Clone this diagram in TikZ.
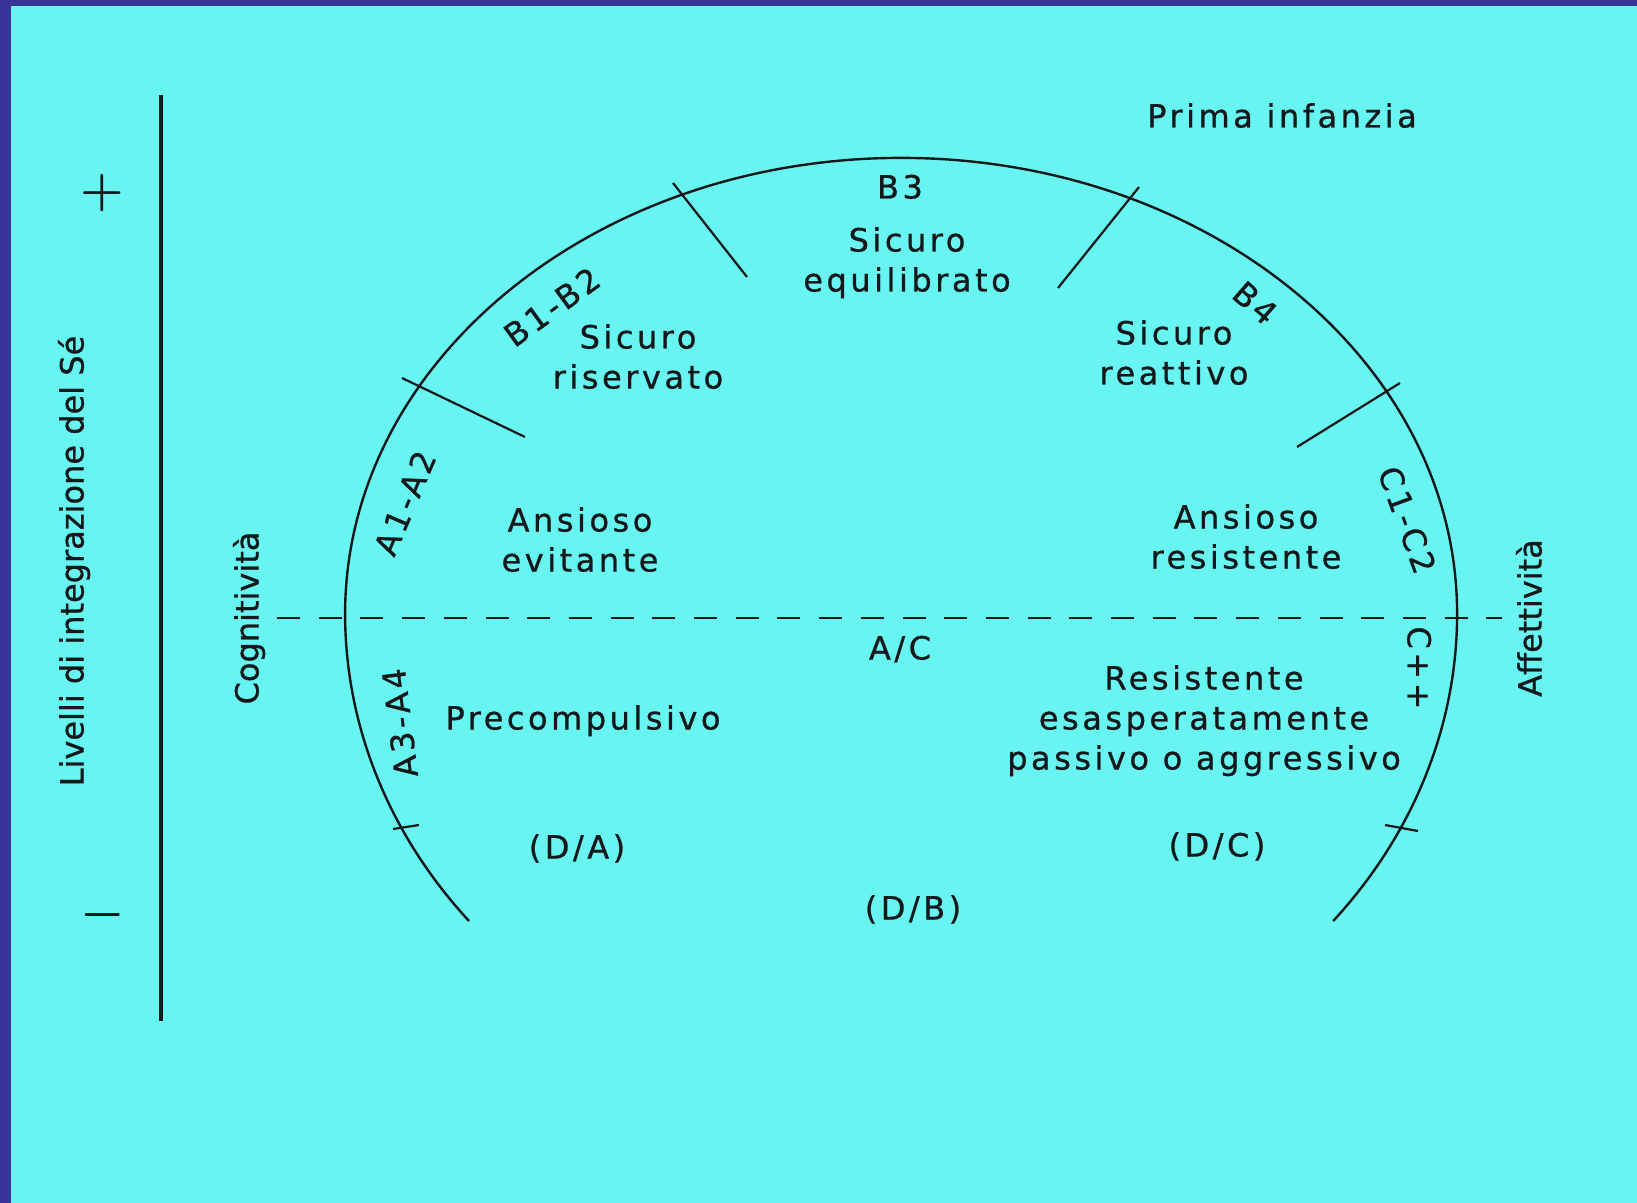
\documentclass[tikz,border=0pt]{standalone}
\usepackage{fontspec}
\setmainfont{DejaVu Sans}[FakeBold=0.8]
\newfontfamily\spaziata{DejaVu Sans}[LetterSpace=11,FakeBold=0.8]
\usetikzlibrary{positioning}
\definecolor{sfondo}{RGB}{104,245,242}
\definecolor{cornice}{RGB}{56,52,152}
\definecolor{inchiostro}{RGB}{20,24,26}
\tikzset{
   voce/.style={font=\spaziata\fontsize{16}{19}\selectfont, text=inchiostro, inner sep=0pt, text height=11.5pt, text depth=0pt},
   asse/.style={font=\fontsize{16}{19}\selectfont, text=inchiostro, inner sep=0pt, text height=11.5pt, text depth=0pt},
   segno/.style={font=\fontsize{30}{30}\selectfont\boldmath, text=inchiostro, inner sep=0pt},
   tacca/.style={draw=inchiostro, line width=1.1pt},
   arco/.style={draw=inchiostro, line width=1.2pt},
   tratteggio/.style={draw=inchiostro, line width=1.1pt, dash pattern=on 11.5pt off 9.35pt}
}
\begin{document}
\begin{tikzpicture}[x=0.5pt,y=-0.5pt,node distance=20pt,on grid]
   \fill[sfondo] (0,0) rectangle (1637,1203);
   \fill[cornice] (0,0) rectangle (1637,6);
   \fill[cornice] (0,0) rectangle (11,1203);
   \useasboundingbox (0,0) rectangle (1637,1203);
   % asse verticale
   \coordinate (alto) at (161,95);
   \coordinate (basso) at (161,1021);
   \draw[draw=inchiostro, line width=1.6pt] (alto) -- (basso);
   \node[segno] (piu) at (102,193) {$+$};
   \node[segno] (meno) at (103,915) {$-$};
   \node[asse, rotate=90] (livelli) at (72,561) {Livelli di integrazione del Sé};
   % arco e divisioni
   \coordinate (fineA) at (469,921);
   \draw[arco] (fineA) arc[start angle=141, end angle=180, x radius=556, y radius=488]
      arc[start angle=180, end angle=360, x radius=556, y radius=456]
      arc[start angle=0, end angle=39, x radius=556, y radius=488];
   \coordinate (sx) at (277,618);
   \coordinate (dx) at (1502,618);
   \draw[tratteggio] (sx) -- (dx);
   \draw[tacca] (673,183) -- (747,277);
   \draw[tacca] (1139,187) -- (1058,288);
   \draw[tacca] (402,378) -- (525,437);
   \draw[tacca] (1400,383) -- (1297,447);
   \draw[tacca] (393,829) -- (419,825);
   \draw[tacca] (1385,825) -- (1418,831);
   % etichette
   \node[voce] (prima) at (1282,116) {Prima infanzia};
   \node[voce] (b3) at (900,187) {B3};
   \node[voce] (sicB3) at (907,240) {Sicuro};
   \node[voce, below=of sicB3] (equil) {equilibrato};
   \node[voce, rotate=36] (b12) at (552,307) {B1-B2};
   \node[voce] (sicB12) at (638,337) {Sicuro};
   \node[voce, below=of sicB12] (riserv) {riservato};
   \node[voce, rotate=-41] (b4) at (1255,303) {B4};
   \node[voce] (sicB4) at (1174,333) {Sicuro};
   \node[voce, below=of sicB4] (reatt) {reattivo};
   \node[voce, rotate=67] (a12) at (405,503) {A1-A2};
   \node[voce] (ansA) at (580,520) {Ansioso};
   \node[voce, below=of ansA] (evit) {evitante};
   \node[voce] (ansC) at (1246,517) {Ansioso};
   \node[voce, below=of ansC] (resist) {resistente};
   \node[voce, rotate=-70] (c12) at (1407,520) {C1-C2};
   \node[asse, rotate=90] (cogn) at (247,618) {Cognitività};
   \node[asse, rotate=90] (affet) at (1530,618) {Affettività};
   \node[voce] (ac) at (900,648) {A/C};
   \node[voce, rotate=97] (a34) at (400,723) {A3-A4};
   \node[voce] (precomp) at (583,718) {Precompulsivo};
   \node[voce] (resC) at (1204,678) {Resistente};
   \node[voce, below=of resC] (esasp) {esasperatamente};
   \node[voce, below=of esasp] (passivo) {passivo o aggressivo};
   \node[voce, rotate=-90] (cpp) at (1419,668) {C++};
   \node[voce] (da) at (577,847) {(D/A)};
   \node[voce] (dc) at (1217,845) {(D/C)};
   \node[voce] (db) at (913,908) {(D/B)};
\end{tikzpicture}
\end{document}
